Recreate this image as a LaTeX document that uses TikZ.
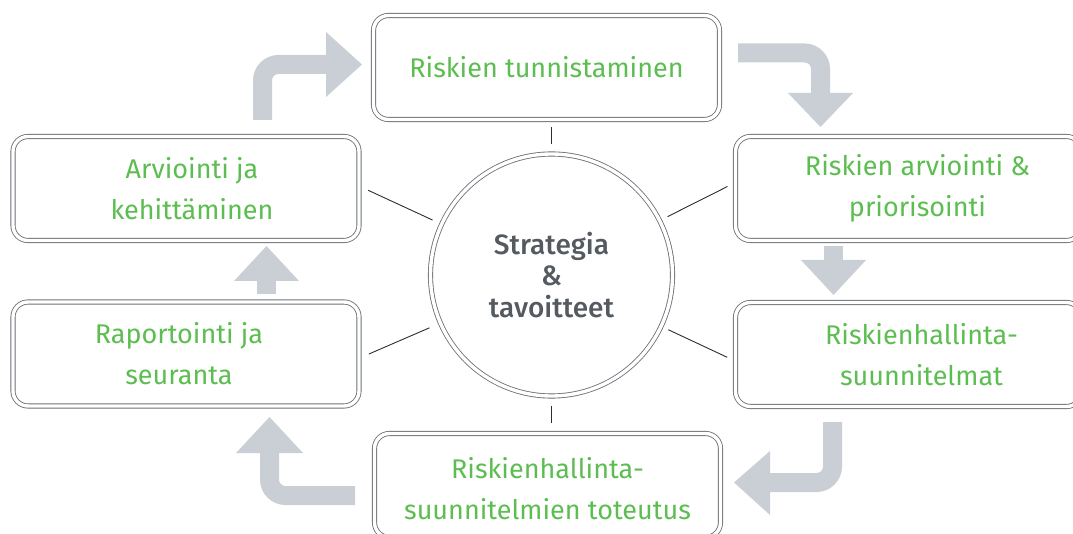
\documentclass[tikz,border=0pt]{standalone}
\usepackage{fontspec}
\setmainfont{Fira Sans}[BoldFont={* Medium}]
\usetikzlibrary{calc}
\definecolor{boxgray}{RGB}{108,113,118}
\definecolor{arrowgray}{RGB}{201,207,212}
\definecolor{txtgreen}{RGB}{92,189,80}
\definecolor{ctrgray}{RGB}{84,90,96}
\definecolor{spokecol}{RGB}{45,45,45}
\tikzset{
  box/.style={draw=boxgray, line width=0.85pt, double=white, double distance=3.4pt,
    rounded corners=15pt, minimum width=346pt, minimum height=104pt,
    inner sep=0pt, outer sep=0pt},
  hub/.style={circle, draw=boxgray, line width=0.85pt, double=white, double distance=3.4pt,
    minimum size=242pt, inner sep=0pt, outer sep=0pt, text=ctrgray, align=center,
    font=\bfseries\fontsize{28}{31.5}\selectfont},
  lbl/.style={text=txtgreen, align=center, inner sep=0pt,
    font=\fontsize{27}{41}\selectfont},
  spoke/.style={draw=spokecol, line width=0.9pt},
  shaft/.style={draw=arrowgray, line width=19pt, rounded corners=16pt},
  head/.style={fill=arrowgray}
}
\begin{document}
\begin{tikzpicture}[x=1pt,y=1pt]
\useasboundingbox (0,0) rectangle (1073,533);
% boxes
\node[box] (b1) at (546.5,465.5) {};
\node[box] (b2) at (908.5,344.5) {};
\node[box] (b3) at (908.5,178.5) {};
\node[box] (b4) at (547.5,47.5) {};
\node[box] (b5) at (186,179) {};
\node[box] (b6) at (186,344.5) {};
% hub
\node[hub] (c) at (551.5,258) {Strategia\\\&\\tavoitteet};
% labels
\node[lbl] (t1) at (b1.center) {Riskien tunnistaminen};
\node[lbl] (t2) at ([xshift=9pt]b2.center) {Riskien arviointi \&\\priorisointi};
\node[lbl] (t3) at ([xshift=13pt]b3.center) {Riskienhallinta-\\suunnitelmat};
\node[lbl] (t4) at ([yshift=-3pt]b4.center) {Riskienhallinta-\\suunnitelmien toteutus};
\node[lbl] (t5) at ([xshift=-7pt]b5.center) {Raportointi ja\\seuranta};
\node[lbl] (t6) at ([xshift=6pt]b6.center) {Arviointi ja\\kehittäminen};
% spokes
\draw[spoke] ($(c.center)+(90:131pt)$) -- ($(c.center)+(90:148pt)$);
\draw[spoke] ($(c.center)+(270:131pt)$) -- ($(c.center)+(270:148pt)$);
\draw[spoke] ($(c.center)+(26.7:130pt)$) -- ($(c.center)+(26.7:197pt)$);
\draw[spoke] ($(c.center)+(-25.1:129pt)$) -- ($(c.center)+(-25.1:194pt)$);
\draw[spoke] ($(c.center)+(155.2:131pt)$) -- ($(c.center)+(155.2:202pt)$);
\draw[spoke] ($(c.center)+(203.4:133pt)$) -- ($(c.center)+(203.4:199pt)$);
% flow arrows
\draw[shaft] (262.5,413) |- (327,468.5);
\fill[head] (326,501) -- (362,468.5) -- (326,436) -- cycle;
\draw[shaft] (738,480) -| (820.5,439);
\fill[head] (788,440) -- (820.5,406) -- (853,440) -- cycle;
\draw[shaft] (833.5,287) -- (833.5,272);
\fill[head] (801,273) -- (833.5,238) -- (866,273) -- cycle;
\draw[shaft] (832.5,111) |- (769,50.5);
\fill[head] (770,82) -- (734,50.5) -- (770,18) -- cycle;
\draw[shaft] (355,37.5) -| (269.5,81);
\fill[head] (236,80) -- (269.5,116) -- (303,80) -- cycle;
\draw[shaft] (266.5,239) -- (266.5,253);
\fill[head] (234,252) -- (266.5,287) -- (299,252) -- cycle;
\end{tikzpicture}
\end{document}
